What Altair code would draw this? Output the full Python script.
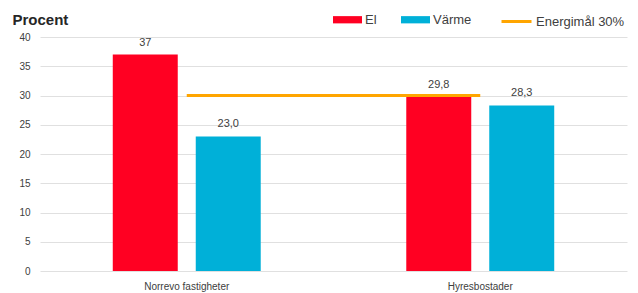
import altair as alt
import pandas as pd

categories = ["Norrevo fastigheter", "Hyresbostader"]
series = ["El", "Värme"]
el_values = [37.0, 29.8]
varme_values = [23.0, 28.3]
el_labels = ["37", "29,8"]
varme_labels = ["23,0", "28,3"]
target_name = "Energimål 30%"
target_values = [30, 30]

rows = []
for i, c in enumerate(categories):
    rows.append({"cat": c, "serie": "El", "value": el_values[i], "label": el_labels[i]})
    rows.append({"cat": c, "serie": "Värme", "value": varme_values[i], "label": varme_labels[i]})
bars_df = pd.DataFrame(rows)
line_df = pd.DataFrame({"cat": categories, "value": target_values, "name": [target_name] * 2})

FONT = "Liberation Sans"
TXT = "#404040"

x = alt.X("cat:N", sort=categories, title=None,
          scale=alt.Scale(paddingInner=0, paddingOuter=0),
          axis=alt.Axis(labelAngle=0, domain=False, ticks=False, labelPadding=10,
                        labelFontSize=10, labelColor=TXT, labelFont=FONT))
y = alt.Y("value:Q", title="Procent",
          scale=alt.Scale(domain=[0, 40], nice=False),
          axis=alt.Axis(values=list(range(0, 41, 5)), domain=False, ticks=False,
                        labelPadding=10, labelFontSize=10, labelColor=TXT, labelFont=FONT,
                        grid=True, gridColor="#e0e0e0", gridWidth=1,
                        titleAngle=0, titleX=-28, titleY=-13, titleAlign="left",
                        titleBaseline="alphabetic", titleFontSize=15, titleFont=FONT,
                        titleFontWeight="bold", titleColor="#262626"))
xo = alt.XOffset("serie:N", sort=series,
                 scale=alt.Scale(paddingInner=0.217, paddingOuter=0.877))

bars = alt.Chart(bars_df).mark_bar().encode(
    x=x, y=y, xOffset=xo,
    color=alt.Color("serie:N", sort=series,
                    scale=alt.Scale(domain=series, range=["#FF0022", "#00B0D8"]),
                    legend=alt.Legend(title=None, orient="none", direction="horizontal",
                                      legendX=293, legendY=-32, padding=0,
                                      symbolType="M-1,-0.25L1,-0.25L1,0.25L-1,0.25Z",
                                      symbolSize=841, symbolStrokeWidth=0,
                                      labelFontSize=13, labelColor=TXT, labelFont=FONT,
                                      labelOffset=3, columnPadding=24)),
)

labels = alt.Chart(bars_df).mark_text(dy=-12, fontSize=11, color=TXT, font=FONT).encode(
    x=x, y=y, xOffset=xo, text="label:N"
)

line = alt.Chart(line_df).mark_line(strokeWidth=3).encode(
    x=x, y=y,
    stroke=alt.Stroke("name:N",
                      scale=alt.Scale(domain=[target_name], range=["#FFA500"]),
                      legend=alt.Legend(title=None, orient="none", legendX=460, legendY=-32,
                                        padding=0,
                                        symbolType="stroke", symbolSize=900,
                                        symbolStrokeWidth=3,
                                        labelFontSize=13, labelColor=TXT, labelFont=FONT,
                                        labelOffset=3)),
)

chart = alt.layer(bars, line, labels).resolve_scale(color="independent").properties(
    width=587, height=234,
    autosize=alt.AutoSizeParams(type="none"),
    padding={"left": 32, "top": 29, "right": 3, "bottom": 22},
).configure_view(stroke=None)

chart.save("out.html", embed_options={"renderer": "svg", "actions": False})
